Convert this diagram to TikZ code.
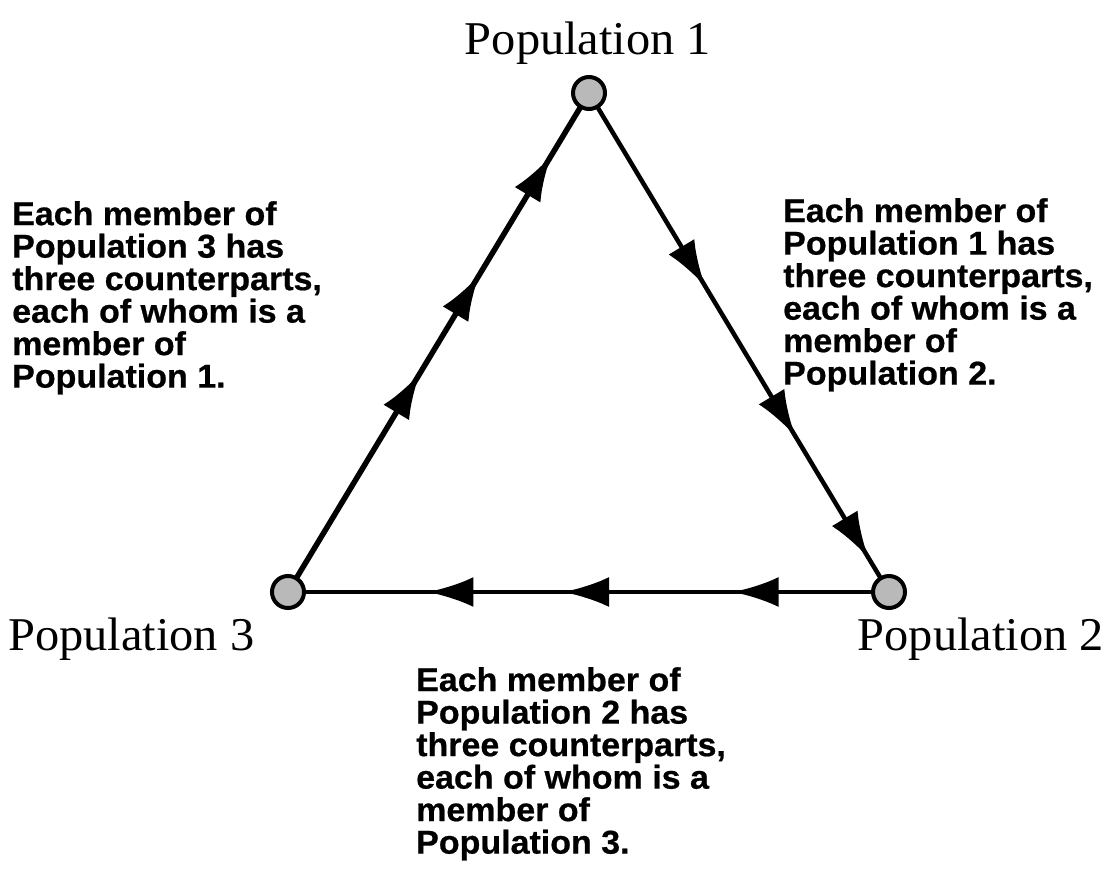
\documentclass[tikz,border=0pt]{standalone}
\usepackage{fontspec}
\setmainfont{Liberation Serif}[FakeStretch=1.03]
\setsansfont{Liberation Sans}[FakeStretch=1.03,FakeBold=0.6]
\usetikzlibrary{arrows.meta,decorations.markings}
\begin{document}
\begin{tikzpicture}[x=1pt,y=-1pt,
  pop/.style={circle,draw=black,line width=4pt,fill=gray!55,minimum size=32pt,inner sep=0pt},
  edge/.style={line width=4.5pt,line cap=round},
  lbl/.style={font=\fontsize{47}{52}\selectfont,inner sep=0pt},
  desc/.style={font=\sffamily\bfseries\fontsize{33}{32.5}\selectfont,align=left,inner sep=0pt,anchor=north west}
]
\tikzset{tip/.tip={Latex[length=46pt,width=30pt]}}
\useasboundingbox (0,0) rectangle (1113,875);

\node[pop] (p1) at (589,93) {};
\node[pop] (p3) at (288,592) {};
\node[pop] (p2) at (889,592) {};

\draw[edge,line width=5.5pt,postaction={decorate,decoration={markings,
  mark=at position 0.435 with {\arrow{tip}},
  mark=at position 0.645 with {\arrow{tip}},
  mark=at position 0.90 with {\arrow{tip}}}}] (p3) -- (p1);
\draw[edge,postaction={decorate,decoration={markings,
  mark=at position 0.38 with {\arrow{tip}},
  mark=at position 0.70 with {\arrow{tip}},
  mark=at position 0.96 with {\arrow{tip}}}}] (p1) -- (p2);
\draw[edge,postaction={decorate,decoration={markings,
  mark=at position 0.245 with {\arrow{tip}},
  mark=at position 0.545 with {\arrow{tip}},
  mark=at position 0.785 with {\arrow{tip}}}}] (p2) -- (p3);

\node[lbl,anchor=base] (l1) at (588,55) {Population 1};
\node[lbl,anchor=base west] (l3) at (8,650) {Population 3};
\node[lbl,anchor=base east] (l2) at (1104,650) {Population 2};

\node[desc] (d3) at (12,201) {Each member of\\Population 3 has\\three counterparts,\\each of whom is a\\member of\\Population 1.};
\node[desc] (d1) at (783,198) {Each member of\\Population 1 has\\three counterparts,\\each of whom is a\\member of\\Population 2.};
\node[desc] (d2) at (416,667) {Each member of\\Population 2 has\\three counterparts,\\each of whom is a\\member of\\Population 3.};
\end{tikzpicture}
\end{document}
